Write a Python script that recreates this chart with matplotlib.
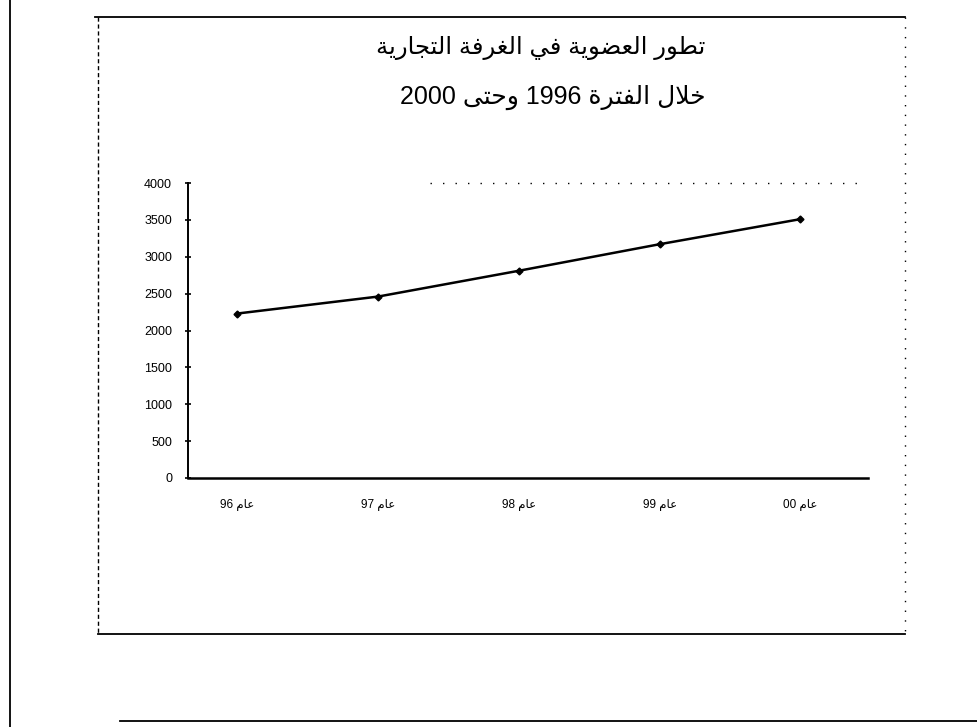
import matplotlib
matplotlib.use("Agg")
import matplotlib.pyplot as plt
from matplotlib.lines import Line2D

# ---- data ----
categories = ["عام 96", "عام 97", "عام 98", "عام 99", "عام 00"]
members = [2230, 2460, 2810, 3170, 3510]
yticks = [0, 500, 1000, 1500, 2000, 2500, 3000, 3500, 4000]
title_line1 = "تطور العضوية في الغرفة التجارية"
title_line2 = "خلال الفترة 1996 وحتى 2000"

# ---- minimal Arabic shaping (presentation forms) ----
FORMS = {  # isolated, final, initial, medial
    'ا': ('\uFE8D', '\uFE8E', None, None),
    'ب': ('\uFE8F', '\uFE90', '\uFE91', '\uFE92'),
    'ة': ('\uFE93', '\uFE94', None, None),
    'ت': ('\uFE95', '\uFE96', '\uFE97', '\uFE98'),
    'ج': ('\uFE9D', '\uFE9E', '\uFE9F', '\uFEA0'),
    'ح': ('\uFEA1', '\uFEA2', '\uFEA3', '\uFEA4'),
    'خ': ('\uFEA5', '\uFEA6', '\uFEA7', '\uFEA8'),
    'ر': ('\uFEAD', '\uFEAE', None, None),
    'ض': ('\uFEBD', '\uFEBE', '\uFEBF', '\uFEC0'),
    'ط': ('\uFEC1', '\uFEC2', '\uFEC3', '\uFEC4'),
    'ع': ('\uFEC9', '\uFECA', '\uFECB', '\uFECC'),
    'غ': ('\uFECD', '\uFECE', '\uFECF', '\uFED0'),
    'ف': ('\uFED1', '\uFED2', '\uFED3', '\uFED4'),
    'ق': ('\uFED5', '\uFED6', '\uFED7', '\uFED8'),
    'ل': ('\uFEDD', '\uFEDE', '\uFEDF', '\uFEE0'),
    'م': ('\uFEE1', '\uFEE2', '\uFEE3', '\uFEE4'),
    'ن': ('\uFEE5', '\uFEE6', '\uFEE7', '\uFEE8'),
    'و': ('\uFEED', '\uFEEE', None, None),
    'ى': ('\uFEEF', '\uFEF0', None, None),
    'ي': ('\uFEF1', '\uFEF2', '\uFEF3', '\uFEF4'),
    'لا': ('\uFEFB', '\uFEFC', None, None),
}


def shape_word(word):
    units = []
    i = 0
    while i < len(word):
        if word[i] == 'ل' and i + 1 < len(word) and word[i + 1] == 'ا':
            units.append('لا')
            i += 2
        else:
            units.append(word[i])
            i += 1
    out = []
    for k, u in enumerate(units):
        if u not in FORMS:
            out.append(u)
            continue
        prev = units[k - 1] if k > 0 else None
        nxt = units[k + 1] if k + 1 < len(units) else None
        join_prev = prev in FORMS and FORMS[prev][2] is not None
        join_next = FORMS[u][2] is not None and nxt in FORMS
        iso, fin, ini, med = FORMS[u]
        if join_prev and join_next:
            out.append(med)
        elif join_prev:
            out.append(fin)
        elif join_next:
            out.append(ini)
        else:
            out.append(iso)
    return ''.join(out)


def visual(text):
    words = text.split(' ')
    vis = []
    for w in words:
        if any(c in FORMS or c in 'لا' for c in w):
            vis.append(shape_word(w)[::-1])
        else:
            vis.append(w)
    return ' '.join(vis[::-1])


fam = ['Liberation Sans', 'DejaVu Sans']

fig = plt.figure(figsize=(9.77, 7.27), dpi=100)
W, H = 977, 727

ax = fig.add_axes([188 / W, 1 - 478 / H, (868 - 188) / W, (478 - 183) / H])
x = list(range(len(categories)))
ax.plot(x, members, color='black', lw=1.8, marker='D', ms=3.5,
        markerfacecolor='black', markeredgecolor='black')
ax.set_ylim(0, 4000)
ax.set_xlim(-0.35, 4.48)
ax.set_yticks(yticks)
ax.set_yticklabels([str(v) for v in yticks], fontsize=9, family=fam)
ax.set_xticks(x)
ax.set_xticklabels([visual(c) for c in categories], fontsize=8.5, family=fam)
ax.tick_params(axis='x', length=0, pad=15)
ax.tick_params(axis='y', direction='inout', length=5, width=1.2, pad=9)
for s in ['top', 'right']:
    ax.spines[s].set_visible(False)
ax.spines['left'].set_linewidth(1.4)
ax.spines['bottom'].set_linewidth(1.8)
ax.set_facecolor('none')

# title (right aligned, Arabic)
fig.text(705 / W, 1 - 48 / H, visual(title_line1), ha='right', va='center',
         fontsize=17.5, family=fam)
fig.text(705 / W, 1 - 97 / H, visual(title_line2), ha='right', va='center',
         fontsize=18, family=fam)

# chart-area frame and page border
def fl(xs, ys, **kw):
    fig.add_artist(Line2D([v / W for v in xs], [1 - v / H for v in ys],
                          color='black', transform=fig.transFigure, **kw))

fl([95, 905], [17, 17], lw=1.3)
fl([98, 905], [634, 634], lw=1.3)
fl([98, 98], [17, 634], lw=1.0, ls=(0, (3, 2)))
fl([905, 905], [17, 634], lw=1.0, ls=(0, (1, 6)))
fl([10, 10], [0, 727], lw=1.3)
fl([120, 977], [721, 721], lw=1.3)
fl([430, 860], [183, 183], lw=1.0, ls=(0, (1, 8)))

fig.savefig('out.png', dpi=100)
